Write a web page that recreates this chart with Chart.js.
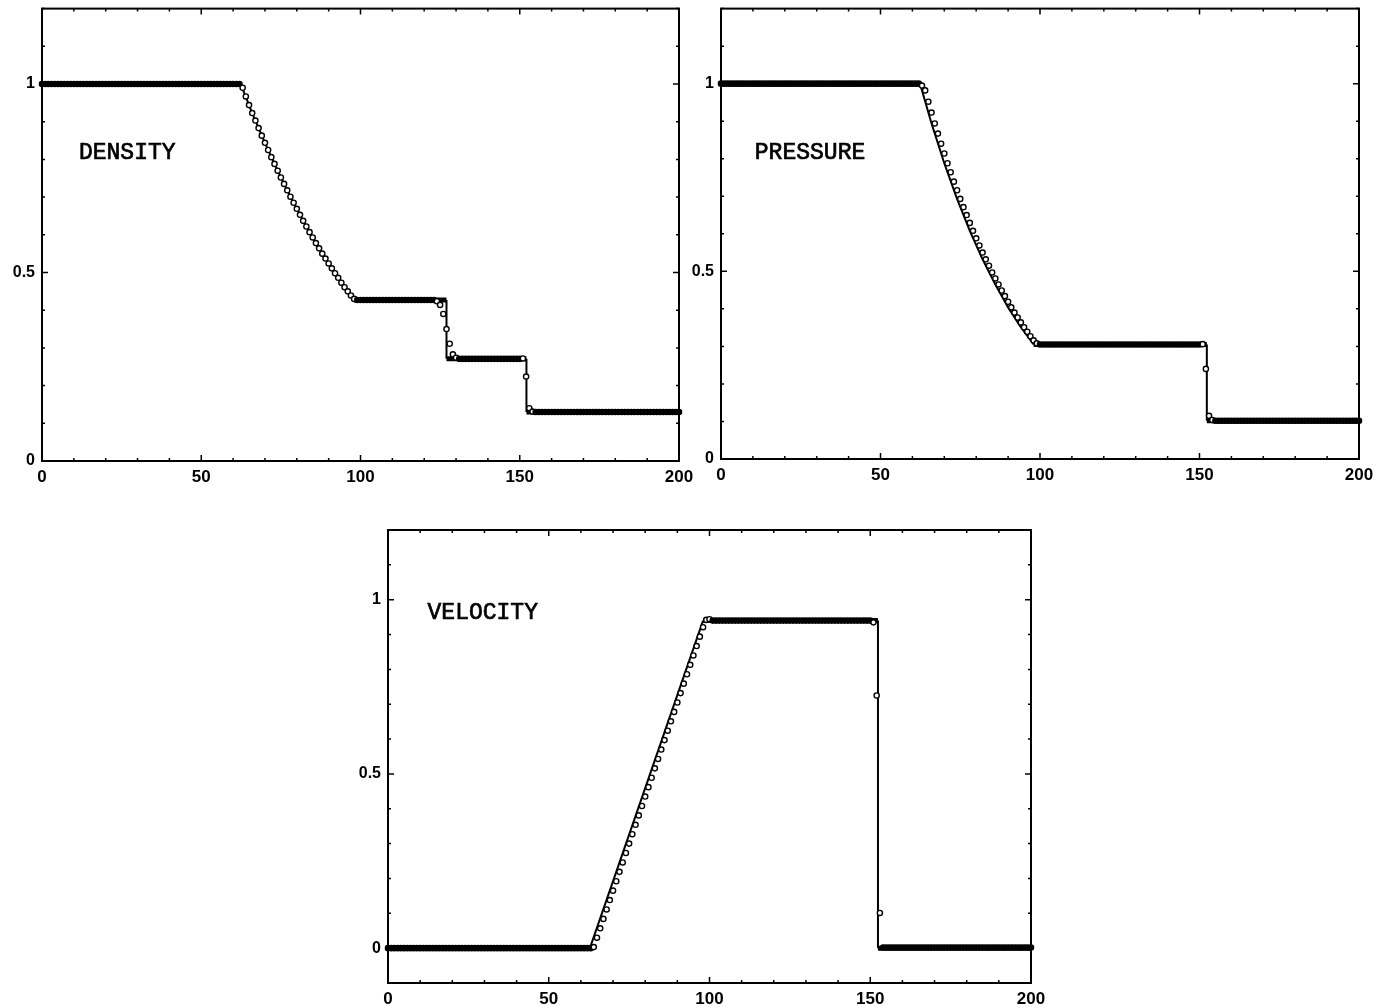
<!DOCTYPE html>
<html>
<head>
<meta charset="utf-8">
<title>Shock tube: density, pressure, velocity</title>
<script src="https://cdn.jsdelivr.net/npm/chart.js@4.4.1/dist/chart.umd.min.js"></script>
<style>
    html, body { margin: 0; padding: 0; background: #fff; overflow: hidden; }
    body { width: 1384px; height: 1006px; position: relative; }
    canvas { position: absolute; }
</style>
</head>
<body>
<canvas id="densityChart" width="700" height="500" style="left:0px;top:-8px"></canvas>
<canvas id="pressureChart" width="704" height="500" style="left:680px;top:-8px"></canvas>
<canvas id="velocityChart" width="720" height="506" style="left:340px;top:500px"></canvas>
<script>
// cell positions (0..200)
const cells = Array.from({ length: 201 }, (_, i) => i);

// axis ticks
const xTicks = [0, 50, 100, 150, 200];
const xTickLabels = ['0', '50', '100', '150', '200'];
const xMinorTicks = [0, 10, 20, 30, 40, 50, 60, 70, 80, 90, 100, 110, 120, 130, 140, 150, 160, 170, 180, 190, 200];
const yTicks = [0, 0.5, 1];
const yTickLabels = ['0', '0.5', '1'];
const yMinorTicks = [0, 0.1, 0.2, 0.3, 0.4, 0.5, 0.6, 0.7, 0.8, 0.9, 1, 1.1, 1.2];
const yMinorTicksVel = [-0.1, 0, 0.1, 0.2, 0.3, 0.4, 0.5, 0.6, 0.7, 0.8, 0.9, 1, 1.1, 1.2];

// numerical solution (circles), one value per cell
const densityNum = [
    1,1,1,1,1,1,1,1,1,1, 1,1,1,1,1,1,1,1,1,1, 1,1,1,1,1,1,1,1,1,1,
    1,1,1,1,1,1,1,1,1,1, 1,1,1,1,1,1,1,1,1,1, 1,1,1,1,1,1,1,1,1,1, 1,1,1,
    0.99,0.967,0.944,0.923,0.903,0.883,0.863,0.844,0.825,0.806,0.788,0.770,0.752,0.735,0.718,0.701,
    0.685,0.669,0.653,0.637,0.622,0.607,0.593,0.578,0.564,0.550,0.537,0.524,0.511,0.498,0.486,0.473,
    0.461,0.450,0.439,0.430,0.427,
    0.427,0.427,0.427,0.427,0.427,0.427,0.427,0.427,0.427,0.427,0.427,0.427,
    0.427,0.427,0.427,0.427,0.427,0.427,0.427,0.427,0.427,0.427,0.427,0.427,
    0.424,0.414,0.39,0.35,0.311,0.283,0.274,
    0.271,0.271,0.271,0.271,0.271,0.271,0.271,0.271,0.271,0.271,
    0.271,0.271,0.271,0.271,0.271,0.271,0.271,0.271,0.271,0.271,
    0.272,0.224,0.14,0.131,
    0.13,0.13,0.13,0.13,0.13,0.13,0.13,0.13,0.13,0.13, 0.13,0.13,0.13,0.13,0.13,0.13,0.13,0.13,0.13,0.13,
    0.13,0.13,0.13,0.13,0.13,0.13,0.13,0.13,0.13,0.13, 0.13,0.13,0.13,0.13,0.13,0.13,0.13,0.13,0.13,0.13,
    0.13,0.13,0.13,0.13,0.13,0.13
];
const pressureNum = [
    1,1,1,1,1,1,1,1,1,1, 1,1,1,1,1,1,1,1,1,1, 1,1,1,1,1,1,1,1,1,1,
    1,1,1,1,1,1,1,1,1,1, 1,1,1,1,1,1,1,1,1,1, 1,1,1,1,1,1,1,1,1,1, 1,1,1,
    0.995,0.982,0.952,0.923,0.894,0.867,0.840,0.814,0.788,0.764,0.739,0.716,0.693,0.671,0.650,0.629,
    0.608,0.588,0.569,0.550,0.532,0.515,0.497,0.481,0.465,0.449,0.434,0.419,0.404,0.390,0.377,0.364,
    0.351,0.339,0.327,0.316,0.308,0.305,
    0.305,0.305,0.305,0.305,0.305,0.305,0.305,0.305,0.305,0.305, 0.305,0.305,0.305,0.305,0.305,0.305,0.305,0.305,0.305,0.305,
    0.305,0.305,0.305,0.305,0.305,0.305,0.305,0.305,0.305,0.305, 0.305,0.305,0.305,0.305,0.305,0.305,0.305,0.305,0.305,0.305,
    0.305,0.305,0.305,0.305,0.305,0.305,0.305,0.305,0.305,0.305,
    0.306,0.24,0.115,0.104,
    0.102,0.102,0.102,0.102,0.102,0.102,0.102,0.102,0.102,0.102, 0.102,0.102,0.102,0.102,0.102,0.102,0.102,0.102,0.102,0.102,
    0.102,0.102,0.102,0.102,0.102,0.102,0.102,0.102,0.102,0.102, 0.102,0.102,0.102,0.102,0.102,0.102,0.102,0.102,0.102,0.102,
    0.102,0.102,0.102,0.102,0.102,0.102
];
const velocityNum = [
    0,0,0,0,0,0,0,0,0,0, 0,0,0,0,0,0,0,0,0,0, 0,0,0,0,0,0,0,0,0,0,
    0,0,0,0,0,0,0,0,0,0, 0,0,0,0,0,0,0,0,0,0, 0,0,0,0,0,0,0,0,0,0, 0,0,0,0,
    0.003,
    0.030,0.057,0.084,0.111,0.138,0.165,0.192,0.219,0.246,0.273,0.300,0.327,0.354,0.381,0.408,0.435,
    0.462,0.489,0.516,0.543,0.570,0.597,0.624,0.651,0.678,0.705,0.732,0.759,0.786,0.813,0.840,0.867,
    0.894,0.921,0.942,0.944,
    0.94,0.94,0.94,0.94,0.94,0.94,0.94,0.94,0.94,0.94, 0.94,0.94,0.94,0.94,0.94,0.94,0.94,0.94,0.94,0.94,
    0.94,0.94,0.94,0.94,0.94,0.94,0.94,0.94,0.94,0.94, 0.94,0.94,0.94,0.94,0.94,0.94,0.94,0.94,0.94,0.94,
    0.94,0.94,0.94,0.94,0.94,0.94,0.94,0.94,0.94,0.94,
    0.935,0.725,0.101,
    0.002,0.002,0.002,0.002,0.002,0.002,0.002,0.002,0.002,0.002, 0.002,0.002,0.002,0.002,0.002,0.002,0.002,0.002,0.002,0.002,
    0.002,0.002,0.002,0.002,0.002,0.002,0.002,0.002,0.002,0.002, 0.002,0.002,0.002,0.002,0.002,0.002,0.002,0.002,0.002,0.002,
    0.002,0.002,0.002,0.002,0.002,0.002,0.002
];

// exact solution (solid line), breakpoints
const densityExactX = [0, 62.4, 66, 70, 74, 78, 82, 86, 90, 94, 98, 127, 127, 152.1, 152.1, 200];
const densityExactY = [1, 1, 0.923, 0.844, 0.770, 0.701, 0.637, 0.578, 0.524, 0.473, 0.427, 0.427, 0.271, 0.271, 0.13, 0.13];
const pressureExactX = [0, 62.4, 66, 70, 74, 78, 82, 86, 90, 94, 98, 152.3, 152.3, 200];
const pressureExactY = [1, 1, 0.894, 0.788, 0.693, 0.608, 0.532, 0.465, 0.404, 0.351, 0.305, 0.305, 0.102, 0.102];
const velocityExactX = [0, 62.8, 98, 152.4, 152.4, 200];
const velocityExactY = [0, 0, 0.94, 0.94, 0, 0];

// panel captions: [text, x, y] in data units
const densityLabel = ['DENSITY', 11.6, 0.80];
const pressureLabel = ['PRESSURE', 10.6, 0.80];
const velocityLabel = ['VELOCITY', 12.3, 0.945];

// frame + inward ticks + caption
const framePlugin = {
    id: 'frame',
    afterDraw(chart, args, opts) {
        const { ctx, chartArea: a } = chart;
        const x = chart.scales.x, y = chart.scales.y;
        ctx.save();
        ctx.strokeStyle = '#000';
        ctx.lineWidth = 2;
        ctx.strokeRect(a.left, a.top, a.right - a.left, a.bottom - a.top);
        ctx.lineWidth = 1.5;
        ctx.beginPath();
        opts.xMinor.forEach(v => {
            const px = x.getPixelForValue(v);
            const len = xTicks.includes(v) ? 6 : 3;
            ctx.moveTo(px, a.bottom); ctx.lineTo(px, a.bottom - len);
            ctx.moveTo(px, a.top); ctx.lineTo(px, a.top + len);
        });
        opts.yMinor.forEach(v => {
            const py = y.getPixelForValue(v);
            const len = yTicks.includes(v) ? 6 : 3;
            ctx.moveTo(a.left, py); ctx.lineTo(a.left + len, py);
            ctx.moveTo(a.right, py); ctx.lineTo(a.right - len, py);
        });
        ctx.stroke();
        // caption, slightly heavier than the plain mono face
        const [txt, tx, ty] = opts.label;
        const px = x.getPixelForValue(tx), py = y.getPixelForValue(ty);
        ctx.fillStyle = '#000';
        ctx.strokeStyle = '#000';
        ctx.lineWidth = 0.7;
        ctx.font = '23px "Liberation Mono"';
        ctx.textBaseline = 'alphabetic';
        ctx.fillText(txt, px, py);
        ctx.strokeText(txt, px, py);
        ctx.restore();
    }
};

function flatNeighbour(ctx, arr) {
    const i = ctx.dataIndex;
    const v = arr[i];
    return (i > 0 && arr[i - 1] === v) || (i < arr.length - 1 && arr[i + 1] === v);
}

function makePanel(id, numY, exX, exY, yMin, yMinor, label, box) {
    const circles = cells.map((c, i) => ({ x: c, y: numY[i] }));
    const exact = exX.map((v, i) => ({ x: v, y: exY[i] }));
    new Chart(document.getElementById(id), {
        type: 'scatter',
        data: {
            datasets: [
                {
                    label: 'numerical',
                    data: circles,
                    order: 0,
                    showLine: false,
                    pointStyle: 'circle',
                    pointRadius: 2.6,
                    pointBorderWidth: 1.4,
                    pointBorderColor: '#000',
                    pointBackgroundColor: ctx => flatNeighbour(ctx, numY) ? '#000' : '#fff',
                    clip: false
                },
                {
                    label: 'exact',
                    data: exact,
                    order: 1,
                    showLine: true,
                    pointRadius: 0,
                    borderColor: '#000',
                    borderWidth: 2,
                    segment: {
                        borderWidth: ctx => ctx.p0.parsed.y === ctx.p1.parsed.y ? 5 : 2
                    },
                    clip: false
                }
            ]
        },
        options: {
            responsive: false,
            animation: false,
            devicePixelRatio: 1,
            layout: { padding: { top: box.top, right: box.right, left: 0, bottom: 0 } },
            plugins: {
                legend: { display: false },
                tooltip: { enabled: false },
                frame: { xMinor: xMinorTicks, yMinor: yMinor, label: label }
            },
            scales: {
                x: {
                    type: 'linear',
                    min: 0,
                    max: 200,
                    grid: { display: false, drawTicks: false },
                    border: { display: false },
                    afterBuildTicks: s => { s.ticks = xTicks.map(v => ({ value: v })); },
                    afterFit: s => { s.height = box.xh; },
                    ticks: {
                        padding: 6,
                        color: '#000',
                        maxRotation: 0,
                        callback: (v, i) => xTickLabels[i],
                        font: { family: '"Liberation Sans", Arial, sans-serif', size: 17, weight: 'bold' }
                    }
                },
                y: {
                    type: 'linear',
                    min: yMin,
                    max: 1.2,
                    grid: { display: false, drawTicks: false },
                    border: { display: false },
                    afterBuildTicks: s => { s.ticks = yTicks.map(v => ({ value: v })); },
                    afterFit: s => { s.width = box.yw; },
                    ticks: {
                        padding: 7,
                        color: '#000',
                        callback: (v, i) => yTickLabels[i],
                        font: { family: '"Liberation Sans", Arial, sans-serif', size: 16, weight: 'bold' }
                    }
                }
            }
        },
        plugins: [framePlugin]
    });
}

makePanel('densityChart', densityNum, densityExactX, densityExactY, 0, yMinorTicks, densityLabel,
    { top: 16, right: 21, yw: 42, xh: 31 });
makePanel('pressureChart', pressureNum, pressureExactX, pressureExactY, 0, yMinorTicks, pressureLabel,
    { top: 16, right: 25, yw: 41, xh: 33 });
makePanel('velocityChart', velocityNum, velocityExactX, velocityExactY, -0.1, yMinorTicksVel, velocityLabel,
    { top: 30, right: 29, yw: 48, xh: 23 });
</script>
</body>
</html>
